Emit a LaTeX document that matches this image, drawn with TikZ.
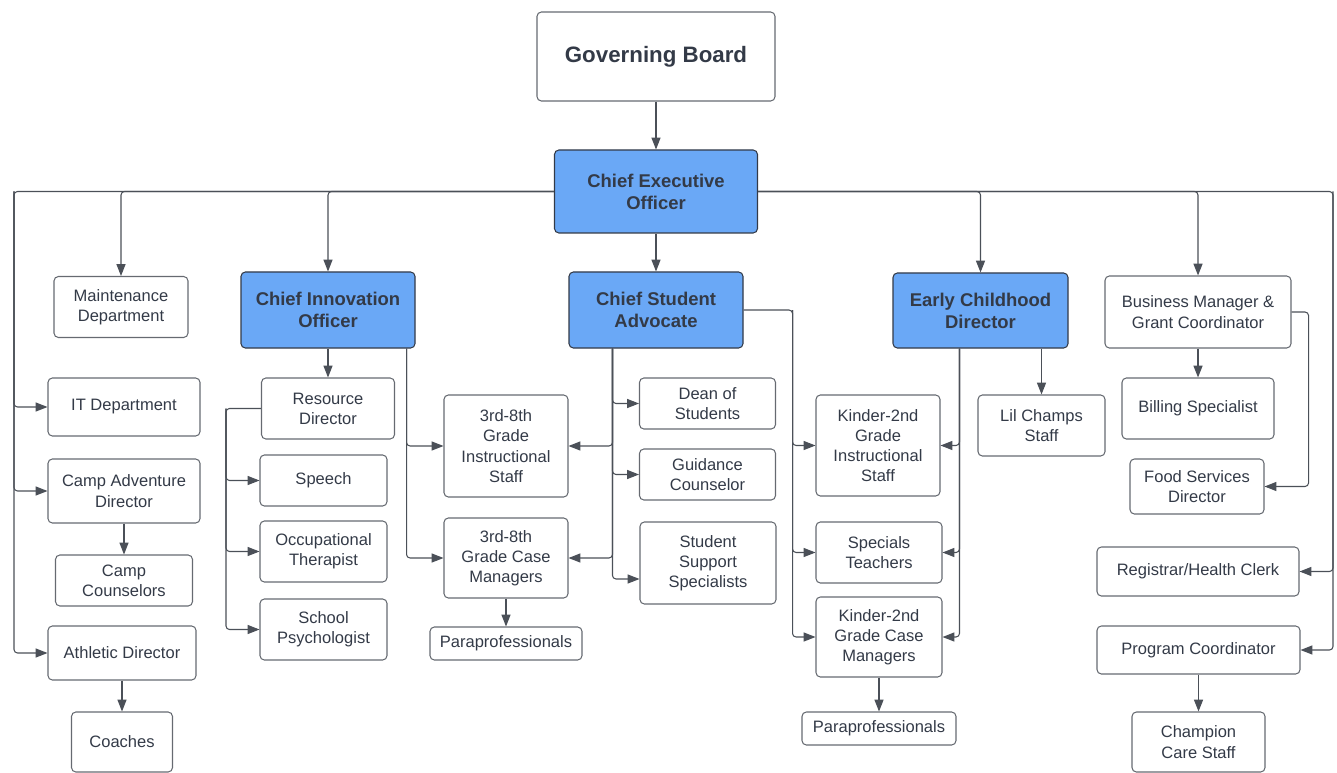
\documentclass[tikz,border=0pt]{standalone}
\usepackage{fontspec}
\setmainfont{Liberation Sans}
\usetikzlibrary{arrows.meta,calc}
\definecolor{ink}{HTML}{333A47}
\definecolor{wire}{HTML}{4B5058}
\definecolor{chief}{HTML}{6AA8F6}
\begin{document}
\begin{tikzpicture}[x=0.02cm,y=-0.02cm,
  every node/.style={font=\fontsize{9.4}{11.5}\selectfont,text=ink,align=center},
  role/.style 2 args={draw=wire!85,line width=0.6pt,rounded corners=2.5pt,
    minimum width=#1*0.02cm,minimum height=#2*0.02cm,inner sep=1pt},
  lead/.style 2 args={role={#1}{#2},fill=chief,draw=ink,
    font=\bfseries\fontsize{10.5}{12.5}\selectfont},
  link/.style={draw=wire,line width=0.6pt,rounded corners=2pt,
    -{Triangle[length=6.8pt,width=5.2pt]}}]
  \useasboundingbox (0,0) rectangle (1337,773);

  \node[role={238}{89},font=\bfseries\fontsize{12.7}{15}\selectfont] (gb) at (656,56.5) {Governing Board};
  \node[lead={203}{83}] (ceo) at (656,191.5) {Chief Executive\\Officer};

  \node[role={134}{61}] (maint) at (121,307) {Maintenance\\Department};
  \node[lead={174}{76}] (cio) at (328,310) {Chief Innovation\\Officer};
  \node[lead={174}{76}] (csa) at (656,310) {Chief Student\\Advocate};
  \node[lead={175}{75}] (ecd) at (980.5,310.5) {Early Childhood\\Director};
  \node[role={186}{72}] (bm) at (1198,312) {Business Manager \&\\Grant Coordinator};

  \node[role={152}{58}] (it) at (124,407) {IT Department};
  \node[role={152}{64}] (cad) at (124,491) {Camp Adventure\\Director};
  \node[role={137}{51}] (cc) at (124,580.5) {Camp\\Counselors};
  \node[role={148}{54}] (ad) at (122,653) {Athletic Director};
  \node[role={101}{60}] (coaches) at (122,742) {Coaches};

  \node[role={133}{61}] (rd) at (328,408.5) {Resource\\Director};
  \node[role={127}{51}] (speech) at (323.5,480.5) {Speech};
  \node[role={127}{61}] (ot) at (323.5,551.5) {Occupational\\Therapist};
  \node[role={127}{61}] (sp) at (323.5,629.5) {School\\Psychologist};

  \node[role={124}{102}] (g38i) at (506,446) {3rd-8th\\Grade\\Instructional\\Staff};
  \node[role={124}{80}] (g38c) at (506,558) {3rd-8th\\Grade Case\\Managers};
  \node[role={152}{33}] (para1) at (506,643.5) {Paraprofessionals};

  \node[role={136}{51}] (dean) at (707.5,403.5) {Dean of\\Students};
  \node[role={136}{51}] (gc) at (707.5,474.5) {Guidance\\Counselor};
  \node[role={136}{82}] (sss) at (708,563) {Student\\Support\\Specialists};

  \node[role={124}{101}] (k2i) at (878,445.5) {Kinder-2nd\\Grade\\Instructional\\Staff};
  \node[role={126}{61}] (spec) at (879,552.5) {Specials\\Teachers};
  \node[role={126}{80}] (k2c) at (879,637) {Kinder-2nd\\Grade Case\\Managers};
  \node[role={154}{33}] (para2) at (879,728.5) {Paraprofessionals};

  \node[role={127}{61}] (lcs) at (1041.5,425.5) {Lil Champs\\Staff};

  \node[role={152}{61}] (bill) at (1198,408.5) {Billing Specialist};
  \node[role={134}{55}] (fsd) at (1197,486.5) {Food Services\\Director};
  \node[role={202}{49}] (reg) at (1198,571.5) {Registrar/Health Clerk};
  \node[role={203}{48}] (pc) at (1198.5,650) {Program Coordinator};
  \node[role={133}{60}] (ccs) at (1198.5,742) {Champion\\Care Staff};

  \draw[link] (gb.south) -- (ceo.north);
  \coordinate (lbus) at (14,191.5);
  \coordinate (rbus) at (1333,191.5);
  \draw[link] (ceo.west) -- (lbus) |- (it.west);
  \draw[link] (lbus) |- (cad.west);
  \draw[link] (lbus) |- (ad.west);
  \draw[link] (ceo.west) -| (maint.north);
  \draw[link] (ceo.west) -| (cio.north);
  \draw[link] (ceo.south) -- (csa.north);
  \draw[link] (ceo.east) -| (ecd.north);
  \draw[link] (ceo.east) -| (bm.north);
  \draw[link] (ceo.east) -- (rbus) |- (reg.east);
  \draw[link] (rbus) |- (pc.east);

  \draw[link] (cad.south) -- (cc.north);
  \draw[link] (ad.south) -- (coaches.north);

  \draw[link] (cio.south) -- (rd.north);
  \coordinate (rdbus) at ($(rd.west)+(-35,0)$);
  \draw[link] (rd.west) -- (rdbus) |- (speech.west);
  \draw[link] (rdbus) |- (ot.west);
  \draw[link] (rdbus) |- (sp.west);
  \coordinate (ciobus) at ($(cio.south east)+(-9,0)$);
  \draw[link] (ciobus) |- (g38i.west);
  \draw[link] (ciobus) |- (g38c.west);
  \draw[link] (g38c.south) -- (para1.north);

  \coordinate (csabus) at ($(csa.south west)+(44,0)$);
  \draw[link] (csabus) |- (dean.west);
  \draw[link] (csabus) |- (g38i.east);
  \draw[link] (csabus) |- (gc.west);
  \draw[link] (csabus) |- (g38c.east);
  \draw[link] (csabus) |- ($(sss.west)+(0,16)$);
  \coordinate (csaside) at ($(csa.east)+(49,0)$);
  \draw[link] (csa.east) -- (csaside) |- (k2i.west);
  \draw[link] (csaside) |- (spec.west);
  \draw[link] (csaside) |- (k2c.west);

  \coordinate (ecdbus) at ($(ecd.south west)+(67,0)$);
  \draw[link] (ecdbus) |- (k2i.east);
  \draw[link] (ecdbus) |- (spec.east);
  \draw[link] (ecdbus) |- (k2c.east);
  \draw[link] (ecd.south -| lcs.north) -- (lcs.north);
  \draw[link] (k2c.south) -- (para2.north);

  \draw[link] (bm.south) -- (bill.north);
  \coordinate (bmside) at ($(bm.east)+(17,0)$);
  \draw[link] (bm.east) -- (bmside) |- (fsd.east);
  \draw[link] (pc.south) -- (ccs.north);
\end{tikzpicture}
\end{document}
